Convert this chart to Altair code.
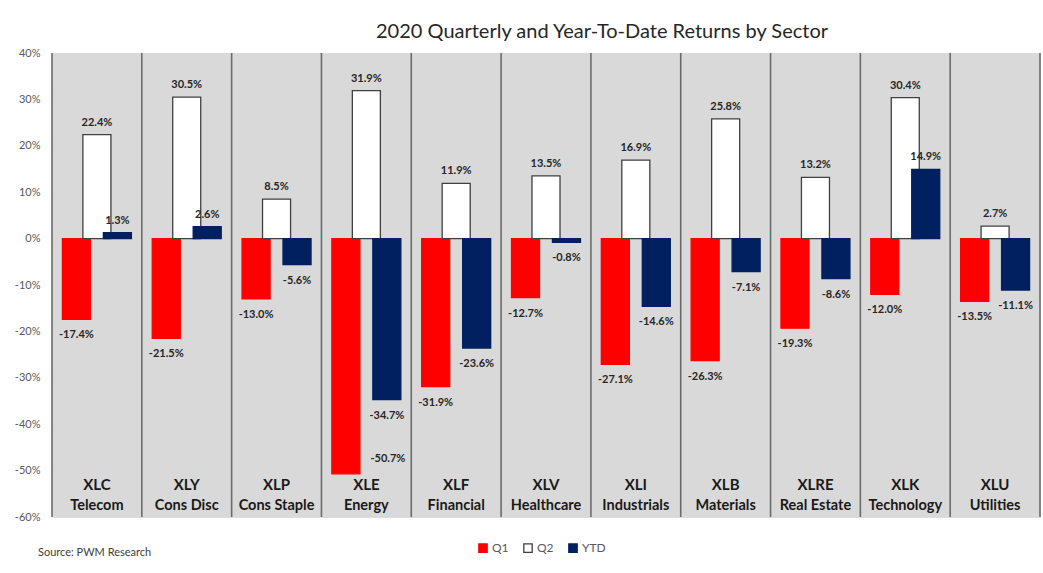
import altair as alt
import pandas as pd

tickers = ["XLC", "XLY", "XLP", "XLE", "XLF", "XLV", "XLI", "XLB", "XLRE", "XLK", "XLU"]
names = ["Telecom", "Cons Disc", "Cons Staple", "Energy", "Financial", "Healthcare",
         "Industrials", "Materials", "Real Estate", "Technology", "Utilities"]
q1 = [-17.4, -21.5, -13.0, -50.7, -31.9, -12.7, -27.1, -26.3, -19.3, -12.0, -13.5]
q2 = [22.4, 30.5, 8.5, 31.9, 11.9, 13.5, 16.9, 25.8, 13.2, 30.4, 2.7]
ytd = [1.3, 2.6, -5.6, -34.7, -23.6, -0.8, -14.6, -7.1, -8.6, 14.9, -11.1]
series_names = ["Q1", "Q2", "YTD"]
y_ticks = [40, 30, 20, 10, 0, -10, -20, -30, -40, -50, -60]

FONT = "Lato"
PW, PH = 988, 464
offsets = {"Q1": -0.228, "Q2": 0.0, "YTD": 0.228}
BW = 0.312

rows = []
for i, t in enumerate(tickers):
    for s, vals in zip(series_names, [q1, q2, ytd]):
        v = vals[i]
        xc = i + 0.5 + offsets[s]
        rows.append({"ticker": t, "series": s, "value": v, "xc": xc,
                     "x1": xc - BW / 2, "x2": xc + BW / 2,
                     "label": f"{v:.1f}%",
                     "special": (t == "XLE" and s == "Q1")})
df = pd.DataFrame(rows)

panels = pd.DataFrame({"i": list(range(len(tickers))),
                       "i2": [k + 1 for k in range(len(tickers))],
                       "lo": [-60] * len(tickers), "hi": [40] * len(tickers),
                       "ticker": tickers, "name": names,
                       "c": [k + 0.5 for k in range(len(tickers))]})
bounds = pd.DataFrame({"b": list(range(len(tickers) + 1)), "lo": -60, "hi": 40})

xs = alt.Scale(domain=[0, len(tickers)], nice=False, zero=False)
ys = alt.Scale(domain=[-60, 40], nice=False)

yaxis = alt.Axis(values=y_ticks, labelExpr="datum.value + '%'", grid=False, domain=False,
                 ticks=False, labelColor="#595959", labelFont=FONT, labelFontSize=11,
                 labelPadding=12, title=None)

bg = alt.Chart(panels).mark_rect(color="#D9D9D9").encode(
    x=alt.X("i:Q", scale=xs, axis=None),
    x2="i2:Q",
    y=alt.Y("lo:Q", scale=ys, axis=yaxis),
    y2="hi:Q",
)

rules = alt.Chart(bounds).mark_rule(color="#6b6b6b", strokeWidth=1.6).encode(
    x=alt.X("b:Q", scale=xs, axis=None),
    y=alt.Y("lo:Q", scale=ys),
    y2="hi:Q",
)

color_scale = alt.Scale(domain=series_names, range=["#FF0000", "#FFFFFF", "#002060"])
stroke_scale = alt.Scale(domain=series_names, range=["#FF0000", "#404040", "#002060"])

bars = alt.Chart(df).mark_bar(strokeWidth=1.3).encode(
    x=alt.X("x1:Q", scale=xs, axis=None),
    x2="x2:Q",
    y=alt.Y("value:Q", scale=ys),
    y2=alt.datum(0),
    color=alt.Color("series:N", scale=color_scale, title=None,
                    legend=alt.Legend(orient="none", legendX=425, legendY=489,
                                      direction="horizontal", symbolType="square",
                                      symbolSize=70, symbolStrokeWidth=1.3,
                                      labelFont=FONT, labelFontSize=12,
                                      labelColor="#595959", columnPadding=12,
                                      labelOffset=3)),
    stroke=alt.Stroke("series:N", scale=stroke_scale, title=None),
    order=alt.Order("series:N"),
)

lab_style = dict(font=FONT, fontSize=11, fontWeight="bold", color="#262626", baseline="middle")

pos_labels = alt.Chart(df).transform_filter("datum.value >= 0").mark_text(dy=-12, **lab_style).encode(
    x=alt.X("xc:Q", scale=xs), y=alt.Y("value:Q", scale=ys), text="label:N")
neg_labels = alt.Chart(df).transform_filter("datum.value < 0 && !datum.special").mark_text(dy=16, **lab_style).encode(
    x=alt.X("xc:Q", scale=xs), y=alt.Y("value:Q", scale=ys), text="label:N")
special_label = alt.Chart(df).transform_filter("datum.special").mark_text(dx=42, dy=-15, **lab_style).encode(
    x=alt.X("xc:Q", scale=xs), y=alt.Y("value:Q", scale=ys), text="label:N")

tick_text = alt.Chart(panels).mark_text(font=FONT, fontSize=15, fontWeight="bold", color="#1a1a1a",
                                        baseline="middle").encode(
    x=alt.X("c:Q", scale=xs), y=alt.value(432), text="ticker:N")
name_text = alt.Chart(panels).mark_text(font=FONT, fontSize=14.5, fontWeight="bold", color="#1a1a1a",
                                        baseline="middle").encode(
    x=alt.X("c:Q", scale=xs), y=alt.value(453), text="name:N")

one = pd.DataFrame({"t": ["2020 Quarterly and Year-To-Date Returns by Sector"],
                    "s": ["Source: PWM Research"]})
title = alt.Chart(one).mark_text(font=FONT, fontSize=20, color="#262626", baseline="middle").encode(
    x=alt.value(550), y=alt.value(-21), text="t:N")
source = alt.Chart(one).mark_text(font=FONT, fontSize=11, color="#404040", baseline="middle",
                                  align="left").encode(
    x=alt.value(-14), y=alt.value(500), text="s:N")

chart = alt.layer(bg, rules, bars, pos_labels, neg_labels, special_label,
                  tick_text, name_text, title, source).properties(
    width=PW, height=PH,
    autosize=alt.AutoSizeParams(type="none"),
    padding={"left": 52, "top": 53, "right": 3, "bottom": 56},
).configure_view(stroke=None).configure(background="white")

chart.save("out.html", embed_options={"renderer": "svg", "actions": False})
